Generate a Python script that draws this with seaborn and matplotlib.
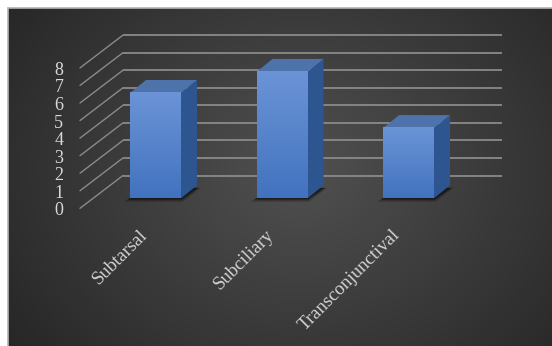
import numpy as np
import pandas as pd
import matplotlib
matplotlib.use("Agg")
import matplotlib.pyplot as plt
import seaborn as sns
from matplotlib.patches import Polygon, Rectangle
from matplotlib.transforms import ScaledTranslation, blended_transform_factory

categories = ["Subtarsal", "Subciliary", "Transconjunctival"]
values = [6, 7.2, 4]
y_ticks = [0, 1, 2, 3, 4, 5, 6, 7, 8]
y_tick_labels = [str(v) for v in y_ticks]

W, H, DPI = 552, 346, 100
sns.set_theme(style="white")
plt.rcParams['font.family'] = ['Liberation Serif', 'DejaVu Serif']

fig = plt.figure(figsize=(W / DPI, H / DPI), dpi=DPI)
fig.patch.set_facecolor('white')

# ---- background (dark radial gradient) ----
bg = fig.add_axes([0, 0, 1, 1], zorder=0)
L = 8
bg.add_patch(Rectangle((L, L), W + 10, H + 10, facecolor='#2c2c2c', edgecolor='none', zorder=0))
yy, xx = np.mgrid[L:H + 4, L:W + 4]
r = np.sqrt(((xx - 300) / 320.0) ** 2 + ((yy - 170) / 260.0) ** 2)
val = 0.315 - 0.145 * np.clip(r, 0, 1.2)
bg.imshow(np.dstack([val, val, val]), extent=(L, W + 4, H + 4, L), origin='upper',
          aspect='auto', interpolation='nearest', zorder=1)
bg.plot([L, L], [L, H + 4], color='#b4b4b4', lw=1.2, zorder=2)
bg.plot([L, W + 4], [L, L], color='#b4b4b4', lw=1.2, zorder=2)
bg.set_xlim(0, W)
bg.set_ylim(H, 0)
bg.axis('off')

# ---- main axes (bar front plane) ----
px_per_cat = 126.5
px_per_unit = 17.55
ax_left, ax_base = 92.25, 198.3
ax_w = 3 * px_per_cat
ax_h = 8 * px_per_unit
ax = fig.add_axes([ax_left / W, (H - ax_base) / H, ax_w / W, ax_h / H], zorder=1)
ax.patch.set_alpha(0)

df = pd.DataFrame({"method": categories, "value": values})
sns.barplot(data=df, x="method", y="value", width=0.403, color="#4a7cc6",
            saturation=1, ax=ax, zorder=4, edgecolor='none')
ax.set_xlim(-0.5, 2.5)
ax.set_ylim(0, 8)
for s in ax.spines.values():
    s.set_visible(False)
ax.set_xlabel("")
ax.set_ylabel("")

# ---- gridlines: back wall + diagonal side wall ----
grid_c = '#8a8a8a'
bt = blended_transform_factory(ax.transAxes, ax.transData)
back = bt + ScaledTranslation(0, 22.8 / DPI, fig.dpi_scale_trans)
front = bt + ScaledTranslation(0, -10.0 / DPI, fig.dpi_scale_trans)
xb0 = (123 - ax_left) / ax_w
xb1 = (502 - ax_left) / ax_w
xf0 = (80 - ax_left) / ax_w
for v in y_ticks:
    ax.plot([xb0, xb1], [v, v], transform=back, color=grid_c, lw=1.3,
            clip_on=False, zorder=1, solid_capstyle='butt')
    p0 = front.transform((xf0, v))
    p1 = back.transform((xb0, v))
    fig.lines.append(plt.Line2D([p0[0] / W, p1[0] / W], [p0[1] / H, p1[1] / H],
                                transform=fig.transFigure, color=grid_c, lw=1.0, zorder=1))

# ---- 3D faces for bars ----
ddx = 16 / px_per_cat
ddy = 13 / px_per_unit
front_grad = np.linspace(0, 1, 64)[:, None]
c_top = np.array([0.42, 0.58, 0.84])
c_bot = np.array([0.26, 0.45, 0.75])
grad_img = (c_top[None, None, :] * (1 - front_grad[..., None]) +
            c_bot[None, None, :] * front_grad[..., None])
for p in list(ax.patches):
    x0, w, h = p.get_x(), p.get_width(), p.get_height()
    sx, sy = 6 / px_per_cat, 3.5 / px_per_unit
    for k, a in zip([1.0, 0.6, 0.3], [0.18, 0.25, 0.35]):
        ax.add_patch(Polygon([(x0 - sx * k, -sy * k), (x0 + w + sx * 0.3 * k, -sy * k),
                              (x0 + w + ddx + sx * 0.6 * k, ddy * 0.8),
                              (x0 + ddx, ddy * 0.8)],
                             closed=True, facecolor='black', edgecolor='none',
                             alpha=a, zorder=2, clip_on=False))
    ax.add_patch(Polygon([(x0 + w, 0), (x0 + w + ddx, ddy), (x0 + w + ddx, h + ddy), (x0 + w, h)],
                         closed=True, facecolor='#2d5690', edgecolor='none', zorder=3))
    ax.add_patch(Polygon([(x0, h), (x0 + w, h), (x0 + w + ddx, h + ddy), (x0 + ddx, h + ddy)],
                         closed=True, facecolor='#4e72aa', edgecolor='none', zorder=3))
    ax.imshow(grad_img, extent=(x0, x0 + w, 0, h), aspect='auto', zorder=5,
              interpolation='bilinear')
ax.set_xlim(-0.5, 2.5)
ax.set_ylim(0, 8)
ax.set_aspect('auto')

# ---- tick labels ----
ax.set_yticks(y_ticks)
ax.set_yticklabels(y_tick_labels)
ax.tick_params(axis='y', length=0, pad=29 * 0.72, labelsize=13, labelcolor='#d9d9d9')
for lab in ax.get_yticklabels():
    lab.set_transform(lab.get_transform() + ScaledTranslation(0, -10.5 / DPI, fig.dpi_scale_trans))

ax.set_xticks([0, 1, 2])
ax.set_xticklabels(categories, rotation=45, ha='right', va='center', rotation_mode='anchor')
ax.tick_params(axis='x', length=0, pad=0, labelsize=13.5, labelcolor='#d4d4d4')
for lab in ax.get_xticklabels():
    lab.set_transform(lab.get_transform() + ScaledTranslation(-11 / DPI, -34 / DPI, fig.dpi_scale_trans))

fig.savefig("out.png", dpi=DPI, facecolor='white')
